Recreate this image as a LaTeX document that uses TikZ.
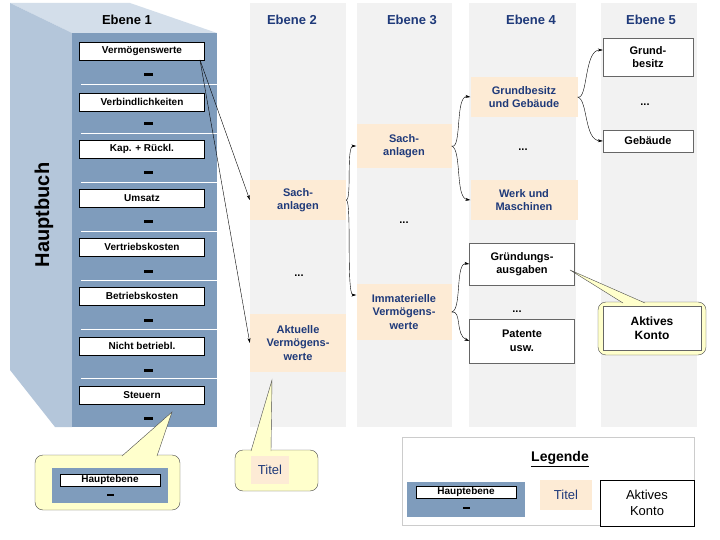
\documentclass[tikz,border=0pt]{standalone}
\usepackage{fontspec}
\setmainfont{Liberation Sans}
\usetikzlibrary{arrows.meta}
\definecolor{bookfront}{HTML}{7F9CBC}
\definecolor{bookside}{HTML}{B4C6DA}
\definecolor{booktop}{HTML}{D3DEEA}
\definecolor{colgrey}{HTML}{F2F2F2}
\definecolor{peach}{HTML}{FDEBD5}
\definecolor{titleblue}{HTML}{1F3A7A}
\definecolor{calloutyellow}{HTML}{FFFFCC}
\tikzset{
  konto/.style={draw=black,fill=white,font=\bfseries\fontsize{10}{12}\selectfont,minimum width=125pt,minimum height=18pt,inner sep=1pt},
  titel/.style={fill=peach,text=titleblue,font=\bfseries\fontsize{11}{13.5}\selectfont,align=center,minimum width=80pt,inner sep=2pt},
  aktiv/.style={draw=black!60,fill=white,font=\bfseries\fontsize{11}{13.5}\selectfont,align=center,minimum width=105pt,inner sep=2pt},
  ebene/.style={font=\bfseries\fontsize{13}{15}\selectfont,text=titleblue},
  minus/.style={fill=black,minimum width=9pt,minimum height=3pt,inner sep=0pt},
  dots/.style={font=\bfseries\fontsize{11}{13}\selectfont},
  link/.style={-{Stealth[length=5pt,width=3pt]},thin},
  callout/.style={draw=black!70,fill=calloutyellow,rounded corners=8pt}
}
\begin{document}
\begin{tikzpicture}[x=1pt,y=-1pt]
\useasboundingbox (0,0) rectangle (720,540);
% columns
\fill[colgrey] (250,3) rectangle (346,427);
\fill[colgrey] (357,3) rectangle (452,427);
\fill[colgrey] (469,3) rectangle (576,427);
\fill[colgrey] (601,3) rectangle (697,427);
% book
\fill[booktop] (10,3) -- (130,3) -- (217,33) -- (72,33) -- cycle;
\fill[bookside] (10,3) -- (72,33) -- (72,427) -- (55,427) -- (10,370) -- cycle;
\fill[bookfront] (72,33) rectangle (217,427);
\foreach \y in {84,133,182,231,280,329,378}
  \draw[white] (81,\y) -- (217,\y);
\node[rotate=90,font=\bfseries\fontsize{20}{24}\selectfont] (hauptbuch) at (44,215) {Hauptbuch};
\node[font=\bfseries\fontsize{13}{15}\selectfont] (e1) at (127,20) {Ebene 1};
\node[ebene] (e2) at (292,20) {Ebene 2};
\node[ebene] (e3) at (412,20) {Ebene 3};
\node[ebene] (e4) at (531,20) {Ebene 4};
\node[ebene] (e5) at (651,20) {Ebene 5};
% level 1
\node[konto] (verm) at (142,51) {Vermögenswerte};
\node[konto] (verb) at (142,102) {Verbindlichkeiten};
\node[konto] (kap) at (142,149) {Kap. + Rückl.};
\node[konto] (ums) at (142,198) {Umsatz};
\node[konto] (vertr) at (142,247) {Vertriebskosten};
\node[konto] (betr) at (142,296) {Betriebskosten};
\node[konto] (nbetr) at (142,346) {Nicht betriebl.};
\node[konto] (steu) at (142,395) {Steuern};
\foreach \y in {75,124,173,222,271,320,370,418}
  \node[minus] at (148,\y) {};
% level 2
\node[titel,minimum width=96pt,minimum height=40pt] (sach2) at (298,200) {Sach-\\anlagen};
\node[dots] (dots2) at (299,276) {...};
\node[titel,minimum width=96pt,minimum height=58pt] (akt) at (298,343) {Aktuelle\\Vermögens-\\werte};
% level 3
\node[titel,minimum width=95pt,minimum height=44pt] (sach3) at (404,146) {Sach-\\anlagen};
\node[dots] (dots3) at (404,223) {...};
\node[titel,minimum width=95pt,minimum height=56pt] (imm) at (404,312) {Immaterielle\\Vermögens-\\werte};
% level 4
\node[titel,minimum width=107pt,minimum height=40pt] (grund4) at (524,97) {Grundbesitz\\und Gebäude};
\node[dots] (dots4a) at (523,150) {...};
\node[titel,minimum width=107pt,minimum height=40pt] (werk) at (524,200) {Werk und\\Maschinen};
\node[aktiv,minimum height=42pt] (grue) at (522,264) {Gründungs-\\ausgaben};
\node[dots] (dots4b) at (517,312) {...};
\node[aktiv,minimum height=44pt] (pat) at (522,341) {Patente\\usw.};
% level 5
\node[aktiv,minimum width=90pt,minimum height=38pt] (grund5) at (648,57) {Grund-\\besitz};
\node[dots] (dots5) at (645,105) {...};
\node[aktiv,minimum width=90pt,minimum height=22pt] (geb) at (648,141) {Gebäude};
% connectors
\coordinate (vfork) at (200,60);
\draw[link] (vfork) -- (sach2.west);
\draw[link] (vfork) -- (akt.west);
\draw[link] (sach2.east) .. controls (352,200) and (346,146) .. (sach3.west);
\draw[link] (sach2.east) .. controls (352,200) and (346,295) .. (imm.west |- 0,295);
\draw[link] (sach3.east) .. controls (462,150) and (455,95) .. (grund4.west);
\draw[link] (sach3.east) .. controls (462,150) and (455,198) .. (werk.west);
\draw[link] (imm.east) .. controls (462,310) and (455,262) .. (grue.west);
\draw[link] (imm.east) .. controls (462,310) and (455,335) .. (pat.west);
\draw[link] (grund4.east) .. controls (588,100) and (584,50) .. (grund5.west |- 0,50);
\draw[link] (grund4.east) .. controls (588,100) and (584,140) .. (geb.west);
% callouts
\draw[callout] (35,455) rectangle (180,510);
\draw[draw=black!70,fill=calloutyellow] (122,456) -- (172,412) -- (157,456);
\fill[bookfront] (52,468) rectangle (168,503);
\node[konto,minimum width=100pt,minimum height=12pt] (hk1) at (110,480) {Hauptebene};
\node[minus,minimum width=7pt,minimum height=2.5pt] at (110,495) {};
\draw[callout] (235,450) rectangle (318,491);
\draw[draw=black!70,fill=calloutyellow] (251,451) -- (272,380) -- (271,451);
\node[titel,minimum width=38pt,minimum height=28pt,font=\fontsize{13}{15}\selectfont] (ti1) at (270,470) {Titel};
\draw[callout] (598,302) rectangle (706,355);
\draw[draw=black!70,fill=calloutyellow] (623,303) -- (570,270) -- (645,303);
\node[aktiv,minimum width=98pt,minimum height=44pt,font=\bfseries\fontsize{12}{14}\selectfont] (ak1) at (652,328) {Aktives\\Konto};
% legend
\draw[black!20] (402,437) rectangle (694,525);
\node[font=\bfseries\fontsize{14}{16}\selectfont] (leg) at (560,459) {\underline{Legende}};
\fill[bookfront] (407,482) rectangle (525,517);
\node[konto,minimum width=100pt,minimum height=12pt] (hk2) at (466,492) {Hauptebene};
\node[minus,minimum width=7pt,minimum height=2.5pt] at (466,508) {};
\node[titel,minimum width=52pt,minimum height=30pt,font=\fontsize{13}{15}\selectfont] (ti2) at (566,495) {Titel};
\node[aktiv,draw=black,minimum width=94pt,minimum height=46pt,font=\fontsize{13}{15.5}\selectfont] (ak2) at (647,503) {Aktives\\Konto};
\end{tikzpicture}
\end{document}
